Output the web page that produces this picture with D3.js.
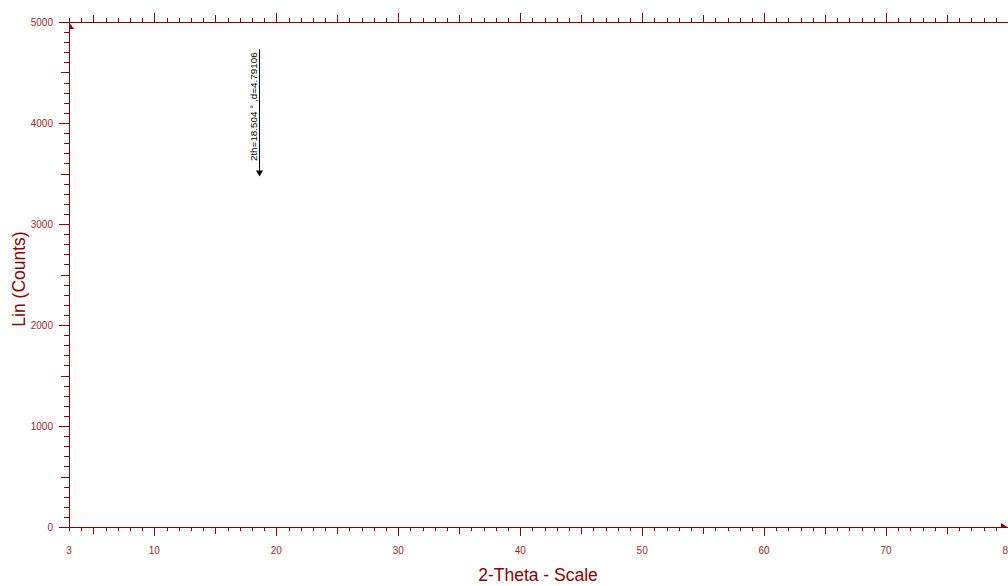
<!DOCTYPE html>
<html><head><meta charset="utf-8">
<script src="https://cdn.jsdelivr.net/npm/d3@7"></script>
<style>body{margin:0;background:#fff}svg{display:block}</style>
</head><body>
<svg id="c" width="1008" height="586"></svg>
<script>
// Data
const xDomain = [3, 80];
const yDomain = [0, 5000];
const xTickLabels = [3, 10, 20, 30, 40, 50, 60, 70, 80];
const yTickLabels = [0, 1000, 2000, 3000, 4000, 5000];
const peakTheta = [18.504];
const peakD = [4.79106];
const peakTop = [4730];
const peakBottom = [3470];
const xTitle = "2-Theta - Scale";
const yTitle = "Lin (Counts)";

const axisColor = "#8b0000", textColor = "#9e2a2a";
const svg = d3.select("#c");
const m = {l: 69, r: 1008, t: 22, b: 527};
const x = d3.scaleLinear().domain(xDomain).range([m.l, m.r]);
const y = d3.scaleLinear().domain(yDomain).range([m.b, m.t]);

const xMinor = d3.range(xDomain[0], xDomain[1] + 1, 1);
const yMinor = d3.range(yDomain[0], yDomain[1] + 1, 100);
function xLen(v){ return v % 10 === 0 ? 9 : (v % 5 === 0 ? 7 : 4); }
function yLen(v){ return v % 1000 === 0 ? 10 : (v % 500 === 0 ? 8 : 5); }

const g = svg.append("g").attr("stroke", axisColor).attr("stroke-width", 1).attr("shape-rendering", "crispEdges");
g.selectAll(".bt").data(xMinor).join("line")
  .attr("x1", d => Math.round(x(d)) + 0.5).attr("x2", d => Math.round(x(d)) + 0.5)
  .attr("y1", m.b).attr("y2", d => m.b + xLen(d));
g.selectAll(".tt").data(xMinor).join("line")
  .attr("x1", d => Math.round(x(d)) + 0.5).attr("x2", d => Math.round(x(d)) + 0.5)
  .attr("y1", m.t).attr("y2", d => m.t - xLen(d));
g.selectAll(".lt").data(yMinor).join("line")
  .attr("y1", d => Math.round(y(d)) + 0.5).attr("y2", d => Math.round(y(d)) + 0.5)
  .attr("x1", m.l).attr("x2", d => m.l - yLen(d));
g.append("line").attr("x1", m.l).attr("x2", m.r).attr("y1", m.b + 0.5).attr("y2", m.b + 0.5);
g.append("line").attr("x1", m.l).attr("x2", m.r).attr("y1", m.t + 0.5).attr("y2", m.t + 0.5);
g.append("line").attr("x1", m.l + 0.5).attr("x2", m.l + 0.5).attr("y1", m.t).attr("y2", m.b);

svg.append("path").attr("fill", axisColor)
  .attr("d", `M${m.l},${m.t} L${m.l},${m.t + 7} L${m.l + 5},${m.t + 7} Z`);
svg.append("path").attr("fill", axisColor)
  .attr("d", `M${m.r},${m.b + 0.5} L${m.r - 7},${m.b + 0.5} L${m.r - 7},${m.b - 4} Z`);

svg.selectAll(".xl").data(xTickLabels).join("text")
  .attr("x", d => x(d)).attr("y", 554).attr("text-anchor", "middle")
  .attr("font-family", "Liberation Sans, Arial, sans-serif").attr("font-size", 10)
  .attr("fill", textColor).text(d => d);
svg.selectAll(".yl").data(yTickLabels).join("text")
  .attr("x", 53).attr("y", d => y(d) + 4).attr("text-anchor", "end")
  .attr("font-family", "Liberation Sans, Arial, sans-serif").attr("font-size", 10)
  .attr("fill", textColor).text(d => d);

svg.append("text").attr("x", 538).attr("y", 581).attr("text-anchor", "middle")
  .attr("font-family", "Liberation Sans, Arial, sans-serif").attr("font-size", 17.5)
  .attr("fill", axisColor).text(xTitle);
svg.append("text").attr("transform", "translate(25,279) rotate(-90)").attr("text-anchor", "middle")
  .attr("font-family", "Liberation Sans, Arial, sans-serif").attr("font-size", 17.5)
  .attr("fill", axisColor).text(yTitle);

peakTheta.forEach((t, i) => {
  const px = Math.round(x(t)) + 1.5;
  const yt = y(peakTop[i]), yb = y(peakBottom[i]);
  svg.append("line").attr("x1", px).attr("x2", px).attr("y1", yt).attr("y2", yb - 5)
    .attr("stroke", "#000").attr("stroke-width", 1);
  svg.append("path").attr("fill", "#000")
    .attr("d", `M${px - 3.5},${yb - 6} L${px + 3.5},${yb - 6} L${px},${yb} Z`);
  svg.append("text").attr("transform", `translate(${px - 3},${yt + 3}) rotate(-90)`)
    .attr("text-anchor", "end").attr("font-family", "Liberation Sans, Arial, sans-serif")
    .attr("font-size", 9.9).attr("fill", "#000")
    .text(`2th=${t.toFixed(3)} ° ,d=${peakD[i]}`);
});
</script>
</body></html>
